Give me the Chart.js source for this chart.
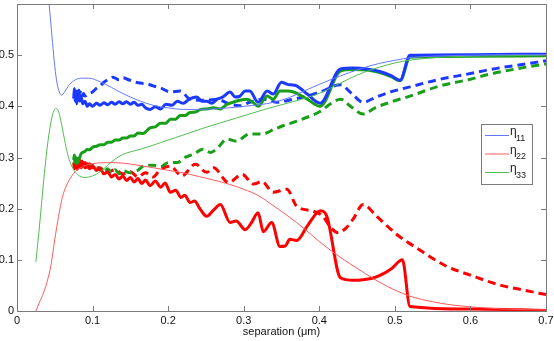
<!DOCTYPE html>
<html><head><meta charset="utf-8">
<script src="https://cdn.jsdelivr.net/npm/chart.js@4"></script>
<style>html,body{margin:0;padding:0;background:#fff;}</style>
</head><body>
<canvas id="c" width="554" height="341"></canvas>
<script>
// ---------- tick labels ----------
const xTickValues = [0, 0.1, 0.2, 0.3, 0.4, 0.5, 0.6, 0.7];
const xTickLabels = ['0', '0.1', '0.2', '0.3', '0.4', '0.5', '0.6', '0.7'];
const yTickValues = [0, 0.1, 0.2, 0.3, 0.4, 0.5, 0.6];
const yTickLabels = ['0', '0.1', '0.2', '0.3', '0.4', '0.5', ''];
const xTitle = 'separation (\u03bcm)';
const legendSubs = ['11', '22', '33'];

// ---------- theory (thin) ----------
const eta11ThX = [0.040,0.044,0.047,0.050,0.053,0.056,0.059,0.063,0.068,0.075,0.085,0.095,0.11,0.125,0.14,0.16,0.18,0.20,0.22,0.24,0.26,0.28,0.30,0.32,0.34,0.36,0.38,0.40,0.42,0.44,0.46,0.48,0.50,0.52,0.55,0.60,0.65,0.70];
const eta11ThY = [0.64,0.575,0.525,0.478,0.445,0.428,0.422,0.428,0.440,0.450,0.455,0.455,0.448,0.437,0.425,0.412,0.402,0.397,0.394,0.394,0.395,0.397,0.400,0.403,0.408,0.417,0.430,0.443,0.455,0.466,0.476,0.484,0.490,0.495,0.498,0.500,0.501,0.501];

const eta22ThX = [0.025,0.030,0.035,0.040,0.045,0.050,0.055,0.060,0.065,0.070,0.075,0.080,0.090,0.100,0.120,0.140,0.160,0.180,0.200,0.220,0.240,0.260,0.280,0.300,0.320,0.340,0.360,0.380,0.400,0.420,0.440,0.460,0.480,0.500,0.520,0.550,0.580,0.620,0.660,0.700];
const eta22ThY = [0.0,0.018,0.035,0.058,0.09,0.14,0.185,0.222,0.244,0.258,0.269,0.276,0.284,0.288,0.290,0.289,0.285,0.280,0.275,0.270,0.263,0.256,0.248,0.238,0.225,0.205,0.184,0.161,0.136,0.113,0.093,0.074,0.056,0.041,0.029,0.018,0.011,0.006,0.003,0.002];

const eta33ThX = [0.025,0.030,0.035,0.040,0.045,0.049,0.052,0.055,0.058,0.062,0.066,0.070,0.075,0.080,0.085,0.090,0.095,0.100,0.110,0.120,0.130,0.140,0.150,0.163,0.176,0.19,0.21,0.23,0.25,0.27,0.29,0.31,0.33,0.35,0.37,0.39,0.41,0.43,0.45,0.47,0.49,0.51,0.53,0.56,0.60,0.65,0.70];
const eta33ThY = [0.096,0.17,0.25,0.32,0.37,0.392,0.396,0.39,0.372,0.342,0.313,0.292,0.276,0.267,0.262,0.261,0.262,0.264,0.272,0.285,0.297,0.306,0.311,0.316,0.322,0.329,0.339,0.349,0.359,0.368,0.377,0.386,0.395,0.403,0.411,0.42,0.432,0.447,0.461,0.472,0.481,0.488,0.492,0.496,0.498,0.499,0.5];

// ---------- thick solid ----------
const eta11SolX = [0.075,0.076,0.077,0.078,0.079,0.080,0.081,0.082,0.083,0.085,0.087,0.090,0.093,0.096,0.100,0.105,0.110,0.115,0.120,0.125,0.130,0.135,0.140,0.145,0.150,0.155,0.160,0.165,0.170,0.176,0.183,0.190,0.197,0.205,0.212,0.220,0.228,0.238,0.245,0.251,0.258,0.265,0.272,0.282,0.289,0.295,0.302,0.308,0.319,0.331,0.339,0.350,0.358,0.362,0.370,0.384,0.401,0.428,0.445,0.463,0.480,0.495,0.507,0.520,0.600,0.700];
const eta11SolY = [0.415,0.435,0.410,0.430,0.405,0.425,0.412,0.432,0.410,0.418,0.405,0.410,0.400,0.405,0.400,0.406,0.402,0.407,0.403,0.408,0.404,0.409,0.405,0.409,0.404,0.408,0.402,0.404,0.397,0.394,0.399,0.395,0.404,0.402,0.410,0.406,0.414,0.418,0.410,0.410,0.406,0.414,0.418,0.428,0.418,0.420,0.430,0.430,0.408,0.430,0.424,0.447,0.443,0.442,0.440,0.424,0.406,0.473,0.475,0.473,0.468,0.460,0.451,0.500,0.501,0.502];

const eta22SolX = [0.075,0.076,0.077,0.078,0.079,0.080,0.081,0.082,0.083,0.085,0.087,0.090,0.093,0.096,0.100,0.105,0.110,0.115,0.120,0.125,0.130,0.135,0.140,0.145,0.150,0.155,0.160,0.165,0.170,0.176,0.183,0.190,0.196,0.203,0.210,0.217,0.222,0.229,0.235,0.242,0.251,0.260,0.269,0.282,0.290,0.302,0.310,0.319,0.326,0.337,0.348,0.355,0.361,0.370,0.384,0.397,0.402,0.410,0.428,0.445,0.458,0.470,0.481,0.495,0.510,0.520,0.600,0.700];
const eta22SolY = [0.290,0.278,0.300,0.280,0.295,0.277,0.298,0.282,0.292,0.280,0.290,0.280,0.288,0.278,0.284,0.275,0.279,0.268,0.272,0.262,0.267,0.258,0.264,0.255,0.261,0.252,0.259,0.249,0.256,0.245,0.254,0.242,0.250,0.232,0.236,0.222,0.226,0.212,0.215,0.200,0.185,0.197,0.208,0.173,0.176,0.159,0.172,0.192,0.155,0.173,0.126,0.127,0.140,0.138,0.166,0.192,0.196,0.185,0.065,0.060,0.061,0.064,0.070,0.082,0.100,0.009,0.004,0.001];

const eta33SolX = [0.075,0.076,0.077,0.078,0.079,0.080,0.081,0.082,0.083,0.085,0.087,0.090,0.093,0.096,0.100,0.105,0.110,0.115,0.120,0.125,0.130,0.135,0.140,0.145,0.150,0.155,0.160,0.167,0.176,0.183,0.190,0.197,0.203,0.210,0.216,0.222,0.229,0.236,0.243,0.251,0.260,0.269,0.278,0.286,0.295,0.304,0.312,0.319,0.331,0.339,0.348,0.358,0.366,0.384,0.401,0.428,0.445,0.463,0.480,0.495,0.507,0.520,0.600,0.700];
const eta33SolY = [0.295,0.305,0.290,0.300,0.288,0.298,0.290,0.296,0.300,0.308,0.310,0.312,0.316,0.315,0.320,0.322,0.325,0.325,0.330,0.330,0.334,0.334,0.338,0.338,0.342,0.342,0.348,0.347,0.358,0.360,0.367,0.367,0.375,0.375,0.382,0.382,0.388,0.389,0.394,0.395,0.397,0.395,0.404,0.408,0.412,0.414,0.408,0.400,0.420,0.414,0.430,0.430,0.428,0.414,0.400,0.469,0.472,0.471,0.466,0.458,0.450,0.496,0.498,0.499];

// ---------- thick dashed ----------
const eta11DashX = [0.078,0.080,0.082,0.084,0.086,0.088,0.090,0.095,0.100,0.105,0.110,0.115,0.120,0.127,0.135,0.140,0.146,0.155,0.165,0.172,0.180,0.190,0.203,0.216,0.229,0.250,0.265,0.280,0.295,0.308,0.326,0.344,0.366,0.384,0.401,0.428,0.443,0.458,0.475,0.494,0.520,0.560,0.600,0.626,0.660,0.700];
const eta11DashY = [0.420,0.430,0.415,0.428,0.418,0.425,0.420,0.425,0.428,0.435,0.440,0.447,0.452,0.457,0.452,0.456,0.453,0.448,0.445,0.444,0.440,0.436,0.428,0.430,0.414,0.412,0.414,0.405,0.401,0.408,0.414,0.408,0.414,0.420,0.428,0.442,0.425,0.408,0.418,0.428,0.438,0.453,0.464,0.472,0.480,0.489];

const eta22DashX = [0.078,0.080,0.082,0.084,0.086,0.088,0.090,0.093,0.096,0.100,0.105,0.110,0.115,0.120,0.130,0.140,0.150,0.160,0.170,0.180,0.190,0.203,0.218,0.236,0.251,0.260,0.280,0.298,0.313,0.324,0.339,0.357,0.370,0.392,0.405,0.414,0.425,0.436,0.445,0.458,0.476,0.503,0.530,0.569,0.600,0.636,0.670,0.700];
const eta22DashY = [0.290,0.280,0.298,0.282,0.293,0.280,0.290,0.278,0.288,0.280,0.285,0.275,0.280,0.272,0.276,0.268,0.272,0.262,0.270,0.262,0.277,0.283,0.264,0.287,0.271,0.280,0.251,0.267,0.248,0.253,0.232,0.238,0.205,0.195,0.185,0.165,0.153,0.163,0.180,0.208,0.185,0.149,0.122,0.087,0.070,0.052,0.041,0.032];

const eta33DashX = [0.078,0.080,0.083,0.086,0.090,0.095,0.100,0.105,0.110,0.115,0.120,0.125,0.130,0.135,0.140,0.150,0.160,0.167,0.180,0.190,0.200,0.212,0.222,0.233,0.246,0.256,0.265,0.278,0.290,0.308,0.325,0.340,0.352,0.370,0.388,0.401,0.415,0.428,0.443,0.458,0.475,0.494,0.520,0.560,0.600,0.626,0.660,0.700];
const eta33DashY = [0.295,0.285,0.295,0.283,0.290,0.280,0.285,0.275,0.280,0.272,0.278,0.270,0.276,0.268,0.274,0.270,0.275,0.283,0.285,0.282,0.290,0.290,0.300,0.306,0.316,0.310,0.318,0.336,0.332,0.346,0.346,0.355,0.362,0.371,0.381,0.390,0.405,0.414,0.398,0.385,0.398,0.408,0.420,0.440,0.453,0.463,0.473,0.483];

// ---------- colours ----------
const BLUE = 'rgb(28,58,255)', GREEN = 'rgb(24,158,24)', RED = 'rgb(255,0,0)';
const BLUE_T = 'rgb(100,120,255)', GREEN_T = 'rgb(80,190,80)', RED_T = 'rgb(255,90,90)';

const pts = (xs, ys) => xs.map((x, i) => ({ x: x, y: ys[i] }));
function ds(xs, ys, color, width, dash, sub) {
  return { data: pts(xs, ys), borderColor: color, backgroundColor: color, borderWidth: width,
    borderDash: dash || [], pointRadius: 0, pointHoverRadius: 0, fill: false,
    cubicInterpolationMode: 'monotone',
    legendSub: sub || null, borderJoinStyle: 'round', borderCapStyle: 'butt' };
}

const datasets = [
  ds(eta11ThX, eta11ThY, BLUE_T, 1, null, legendSubs[0]),
  ds(eta22ThX, eta22ThY, RED_T, 1, null, legendSubs[1]),
  ds(eta33ThX, eta33ThY, GREEN_T, 1, null, legendSubs[2]),
  ds(eta11SolX, eta11SolY, BLUE, 3),
  ds(eta33SolX, eta33SolY, GREEN, 3),
  ds(eta22SolX, eta22SolY, RED, 3),
  ds(eta11DashX, eta11DashY, BLUE, 3, [8, 5]),
  ds(eta33DashX, eta33DashY, GREEN, 3, [8, 5]),
  ds(eta22DashX, eta22DashY, RED, 3, [8, 5])
];

const FONT = 'Liberation Sans, Arial, Helvetica, sans-serif';
const AXIS_COL = '#7a7a7a';

const framePlugin = {
  id: 'frame',
  afterDraw(chart) {
    const { ctx, chartArea: a, scales } = chart;
    const xs = scales.x, ys = scales.y;
    ctx.save();
    ctx.strokeStyle = AXIS_COL; ctx.lineWidth = 1; ctx.setLineDash([]);
    ctx.strokeRect(a.left + 0.5, a.top + 0.5, a.right - a.left, a.bottom - a.top);
    const tl = 5;
    ctx.beginPath();
    xTickValues.forEach(v => {
      const px = Math.round(xs.getPixelForValue(v)) + 0.5;
      ctx.moveTo(px, a.bottom); ctx.lineTo(px, a.bottom - tl);
      ctx.moveTo(px, a.top); ctx.lineTo(px, a.top + tl);
    });
    yTickValues.forEach(v => {
      const py = Math.round(ys.getPixelForValue(v)) + 0.5;
      ctx.moveTo(a.left, py); ctx.lineTo(a.left + tl, py);
      ctx.moveTo(a.right, py); ctx.lineTo(a.right - tl, py);
    });
    ctx.stroke();

    // legend box
    const bx = 481, by = 124, bw = 51, bh = 60;
    ctx.fillStyle = '#fff';
    ctx.fillRect(bx, by, bw, bh);
    ctx.strokeStyle = AXIS_COL;
    ctx.strokeRect(bx + 0.5, by + 0.5, bw, bh);
    const rows = chart.data.datasets.filter(d => d.legendSub);
    const rowY = [135, 153.5, 172];
    rows.forEach((d, i) => {
      const y = rowY[i];
      ctx.strokeStyle = d.borderColor; ctx.lineWidth = 1;
      ctx.beginPath(); ctx.moveTo(485, y + 0.5); ctx.lineTo(509, y + 0.5); ctx.stroke();
      ctx.fillStyle = '#222';
      ctx.textAlign = 'left'; ctx.textBaseline = 'alphabetic';
      ctx.font = '12px ' + FONT;
      ctx.fillText('\u03b7', 510, y);
      ctx.font = '9px ' + FONT;
      ctx.fillText(d.legendSub, 516, y + 5.5);
    });
    ctx.restore();
  }
};

new Chart(document.getElementById('c'), {
  type: 'line',
  data: { datasets: datasets },
  plugins: [framePlugin],
  options: {
    responsive: false, animation: false, devicePixelRatio: 1,
    layout: { padding: { top: 4, right: 8, left: 0, bottom: 0 } },
    plugins: { legend: { display: false }, tooltip: { enabled: false } },
    scales: {
      x: {
        type: 'linear', min: 0, max: 0.7,
        grid: { display: false, drawTicks: false }, border: { display: false },
        afterBuildTicks: s => { s.ticks = xTickValues.map(v => ({ value: v })); },
        afterFit: s => { s.height = 30; s.paddingLeft = 0; s.paddingRight = 0; },
        ticks: { autoSkip: false, maxRotation: 0, padding: 3, color: '#111',
          font: { family: FONT, size: 11 }, callback: (v, i) => xTickLabels[i] },
        title: { display: true, text: xTitle, color: '#111', padding: { top: 0, bottom: 2 },
          font: { family: FONT, size: 11 } }
      },
      y: {
        type: 'linear', min: 0, max: 0.6,
        grid: { display: false, drawTicks: false }, border: { display: false },
        afterBuildTicks: s => { s.ticks = yTickValues.map(v => ({ value: v })); },
        afterFit: s => { s.width = 17; s.paddingTop = 0; s.paddingBottom = 0; },
        ticks: { autoSkip: false, padding: 3, color: '#111',
          font: { family: FONT, size: 11 }, callback: (v, i) => yTickLabels[i] }
      }
    }
  }
});
</script>
</body></html>
